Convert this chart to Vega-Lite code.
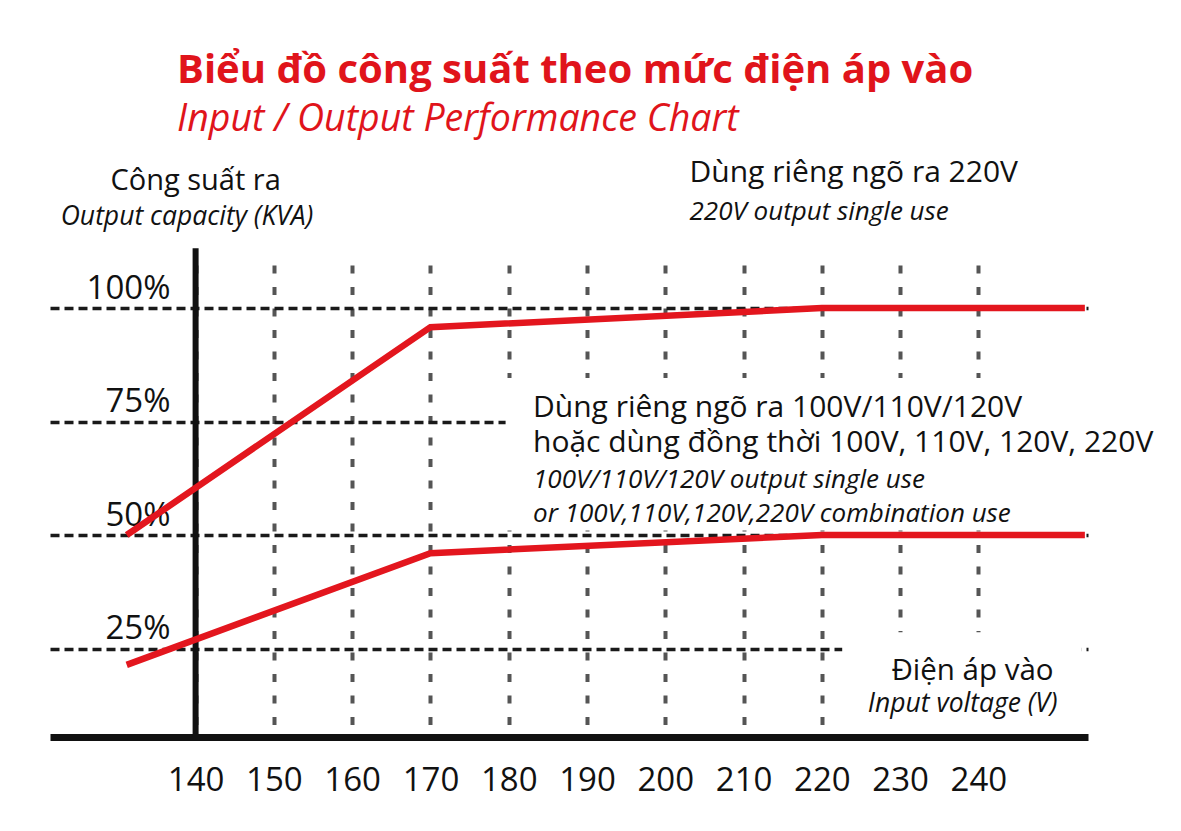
{
  "$schema": "https://vega.github.io/schema/vega-lite/v6.json",
  "width": 1038,
  "height": 472,
  "autosize": {"type": "none"},
  "padding": {"left": 50, "top": 265, "right": 93, "bottom": 94},
  "background": "white",
  "config": {
    "view": {"stroke": null},
    "font": "Open Sans",
    "text": {"font": "Open Sans", "color": "#111111"}
  },
  "title": {
    "text": "Biểu đồ công suất theo mức điện áp vào",
    "subtitle": "Input / Output Performance Chart",
    "anchor": "start",
    "frame": "group",
    "dx": 127,
    "offset": 19,
    "font": "Open Sans",
    "fontSize": 40,
    "fontWeight": "bold",
    "color": "#e0141b",
    "subtitleFont": "Open Sans",
    "subtitleFontSize": 37.5,
    "subtitleFontStyle": "italic",
    "subtitleFontWeight": "normal",
    "subtitleColor": "#e0141b",
    "subtitlePadding": 10
  },
  "data": {"values": [{}]},
  "datasets": {
    "curves": [
      {"series": "220V", "voltage": 131.2, "capacity": 50},
      {"series": "220V", "voltage": 170, "capacity": 95.8},
      {"series": "220V", "voltage": 220, "capacity": 100},
      {"series": "220V", "voltage": 253.6, "capacity": 100},
      {"series": "combo", "voltage": 131.2, "capacity": 21.4},
      {"series": "combo", "voltage": 170, "capacity": 46},
      {"series": "combo", "voltage": 220, "capacity": 50},
      {"series": "combo", "voltage": 253.6, "capacity": 50}
    ]
  },
  "layer": [
    {
      "data": {"name": "curves"},
      "mark": {"type": "line", "strokeWidth": 0, "opacity": 0},
      "encoding": {
        "x": {
          "field": "voltage",
          "type": "quantitative",
          "scale": {"domain": [121.4, 254], "nice": false, "zero": false},
          "axis": {
            "title": null,
            "values": [140, 150, 160, 170, 180, 190, 200, 210, 220, 230, 240],
            "domain": true,
            "domainColor": "#111111",
            "domainWidth": 7,
            "ticks": false,
            "labelFontSize": 33,
            "labelColor": "#111111",
            "labelFont": "Open Sans",
            "labelBaseline": "alphabetic",
            "labelPadding": 53,
            "grid": true,
            "gridColor": "#555555",
            "gridWidth": 4,
            "gridDash": [8, 13.5],
            "gridOpacity": 1
          }
        },
        "y": {
          "field": "capacity",
          "type": "quantitative",
          "scale": {"domain": [5.5, 109.5], "nice": false, "zero": false},
          "axis": {
            "title": null,
            "values": [25, 50, 75, 100],
            "labelExpr": "datum.value + '%'",
            "domain": false,
            "ticks": false,
            "labelFontSize": 33,
            "labelColor": "#111111",
            "labelFont": "Open Sans",
            "labelAlign": "right",
            "labelBaseline": "alphabetic",
            "labelPadding": -120,
            "labelOffset": -10,
            "grid": true,
            "gridColor": "#1a1a1a",
            "gridWidth": 3.5,
            "gridDash": [9, 5],
            "gridOpacity": 1
          }
        },
        "detail": {"field": "series"}
      }
    },
    {
      "mark": {"type": "rect", "fill": "white"},
      "encoding": {
        "x": {"datum": 179.6},
        "x2": {"datum": 264},
        "y": {"datum": 84.6},
        "y2": {"datum": 51}
      }
    },
    {
      "mark": {"type": "rect", "fill": "white"},
      "encoding": {
        "x": {"datum": 222.6},
        "x2": {"datum": 253.2},
        "y": {"datum": 28.6},
        "y2": {"datum": 6.8}
      }
    },
    {
      "mark": {"type": "rule", "color": "#111111", "strokeWidth": 6},
      "encoding": {
        "x": {"datum": 140},
        "y": {"datum": 5.5},
        "y2": {"datum": 113.2}
      }
    },
    {
      "data": {"name": "curves"},
      "mark": {"type": "line", "color": "#e3161e", "strokeWidth": 6.5, "strokeCap": "butt", "strokeJoin": "miter"},
      "encoding": {
        "x": {"field": "voltage", "type": "quantitative"},
        "y": {"field": "capacity", "type": "quantitative"},
        "detail": {"field": "series"}
      }
    },
    {
      "mark": {"type": "text", "text": "Công suất ra", "align": "center", "baseline": "alphabetic", "fontSize": 29},
      "encoding": {"x": {"datum": 140}, "y": {"datum": 126}}
    },
    {
      "mark": {"type": "text", "text": "Output capacity (KVA)", "align": "center", "baseline": "alphabetic", "fontSize": 26.5, "fontStyle": "italic"},
      "encoding": {"x": {"datum": 138.9}, "y": {"datum": 118.3}}
    },
    {
      "mark": {"type": "text", "text": "Dùng riêng ngõ ra 220V", "align": "left", "baseline": "alphabetic", "fontSize": 30},
      "encoding": {"x": {"datum": 203.1}, "y": {"datum": 127.8}}
    },
    {
      "mark": {"type": "text", "text": "220V output single use", "align": "left", "baseline": "alphabetic", "fontSize": 26, "fontStyle": "italic"},
      "encoding": {"x": {"datum": 203.1}, "y": {"datum": 119.4}}
    },
    {
      "mark": {"type": "text", "text": ["Dùng riêng ngõ ra 100V/110V/120V", "hoặc dùng đồng thời 100V, 110V, 120V, 220V"], "align": "left", "baseline": "alphabetic", "fontSize": 30, "lineHeight": 35},
      "encoding": {"x": {"datum": 183.1}, "y": {"datum": 76.0}}
    },
    {
      "mark": {"type": "text", "text": ["100V/110V/120V output single use", "or 100V,110V,120V,220V combination use"], "align": "left", "baseline": "alphabetic", "fontSize": 26, "fontStyle": "italic", "lineHeight": 34},
      "encoding": {"x": {"datum": 183.1}, "y": {"datum": 60.35}}
    },
    {
      "mark": {"type": "text", "text": "Điện áp vào", "align": "right", "baseline": "alphabetic", "fontSize": 29.5},
      "encoding": {"x": {"datum": 249.6}, "y": {"datum": 18.1}}
    },
    {
      "mark": {"type": "text", "text": "Input voltage (V)", "align": "right", "baseline": "alphabetic", "fontSize": 26.5, "fontStyle": "italic"},
      "encoding": {"x": {"datum": 250.1}, "y": {"datum": 11.0}}
    }
  ]
}
